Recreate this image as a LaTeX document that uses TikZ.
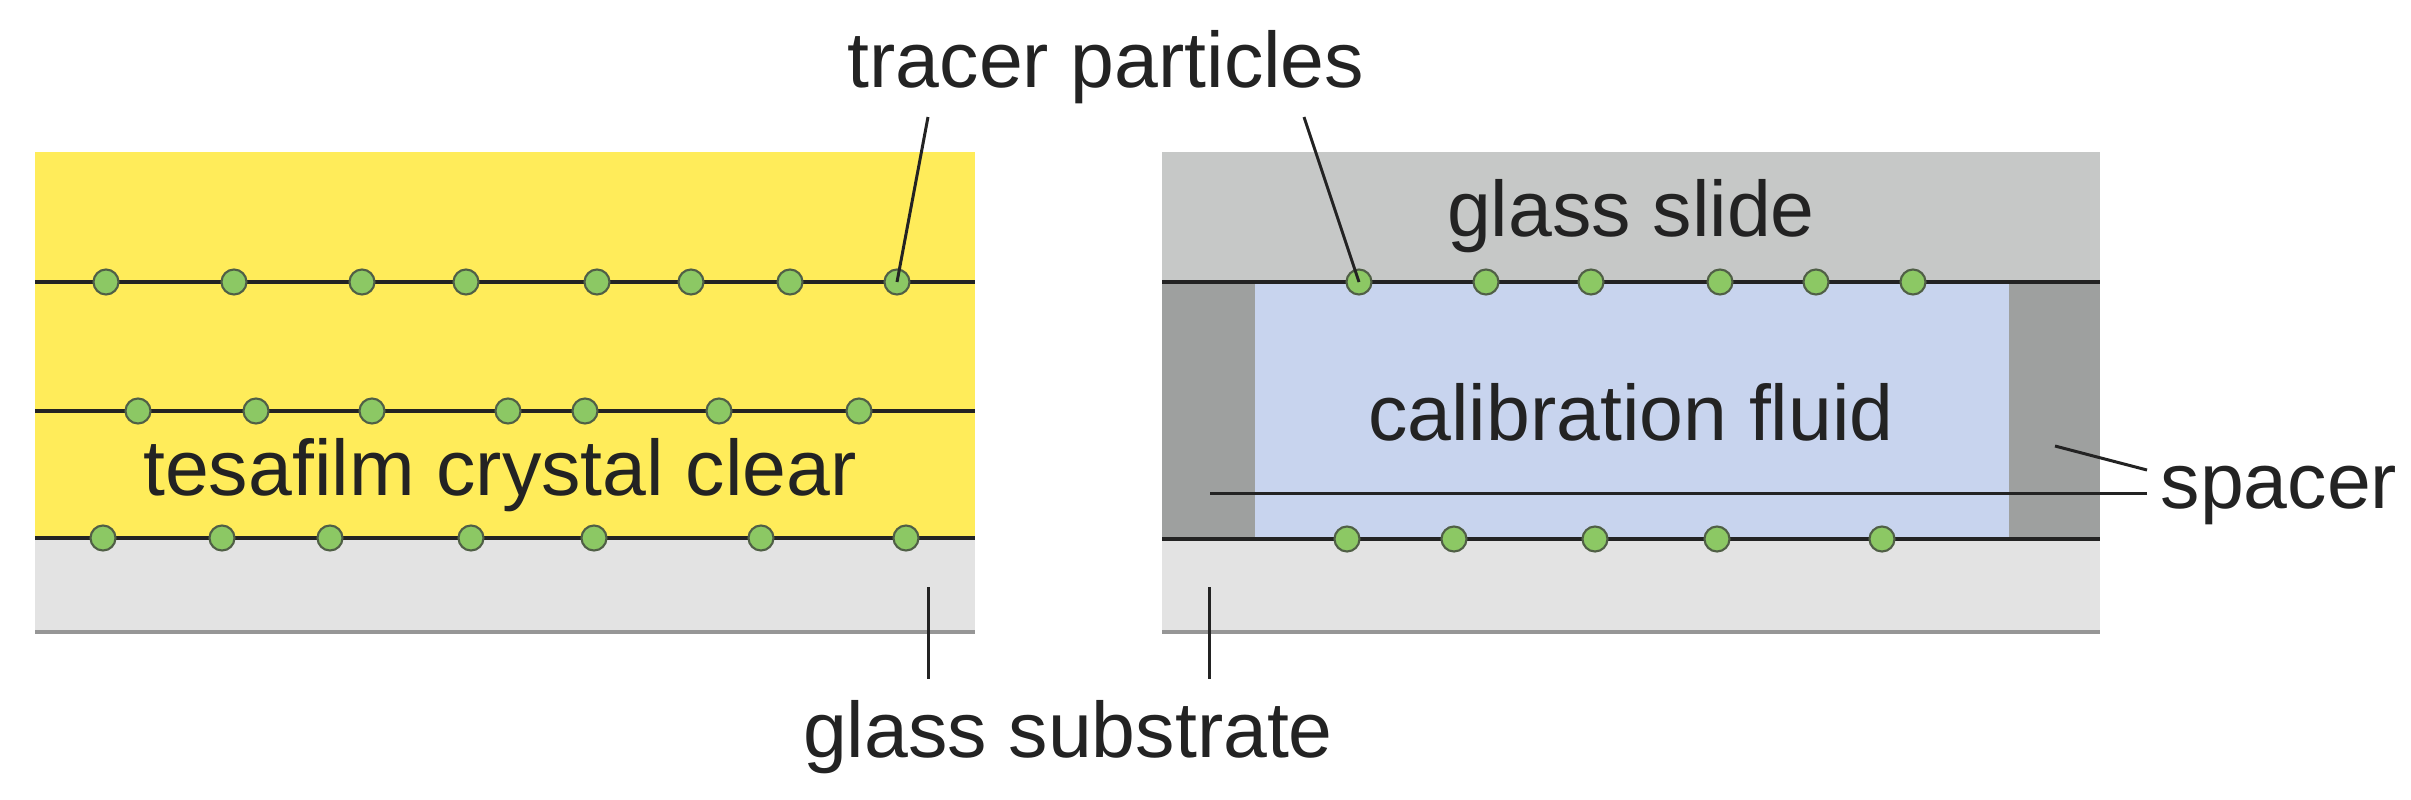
\documentclass[tikz,border=0pt]{standalone}
\usepackage{fontspec}
\setmainfont{Liberation Sans}
\definecolor{yel}{RGB}{255,236,90}
\definecolor{slide}{RGB}{198,200,199}
\definecolor{spacercol}{RGB}{158,160,159}
\definecolor{fluid}{RGB}{200,212,238}
\definecolor{subs}{RGB}{227,227,227}
\definecolor{subsedge}{RGB}{150,150,150}
\definecolor{pgreen}{RGB}{140,200,100}
\definecolor{pedge}{RGB}{80,95,70}
\definecolor{ink}{RGB}{35,35,35}
\begin{document}
\begin{tikzpicture}[x=0.01cm,y=-0.01cm,
  lbl/.style={font=\fontsize{22.4}{26}\selectfont, inner sep=0, anchor=base, text=ink},
  layerline/.style={line width=1.15pt, draw=ink},
  edgeline/.style={line width=1.1pt, draw=subsedge},
  leader/.style={line width=0.85pt, draw=ink},
  particle/.style={circle, minimum size=0.25cm, inner sep=0, fill=pgreen, draw=pedge, line width=0.6pt}]
\fill[white] (0,0) rectangle (2411,799);
\useasboundingbox (0,0) rectangle (2411,799);
% left panel
\fill[yel] (35,152) rectangle (975,538);
\fill[subs] (35,538) rectangle (975,632);
\draw[edgeline] (35,632) -- (975,632);
\draw[layerline] (35,282) -- (975,282);
\draw[layerline] (35,411) -- (975,411);
\draw[layerline] (35,538) -- (975,538);
% right panel
\fill[slide] (1162,152) rectangle (2100,282);
\fill[spacercol] (1162,282) rectangle (1255,539);
\fill[spacercol] (2009,282) rectangle (2100,539);
\fill[fluid] (1255,282) rectangle (2009,539);
\fill[subs] (1162,539) rectangle (2100,632);
\draw[edgeline] (1162,632) -- (2100,632);
\draw[layerline] (1162,282) -- (2100,282);
\draw[layerline] (1162,539) -- (2100,539);
% particles
\foreach \x [count=\i] in {106,234,362,466,597,691,790,897}
  \node[particle] (la\i) at (\x,282) {};
\foreach \x [count=\i] in {138,256,372,508,585,719,859}
  \node[particle] (lb\i) at (\x,411) {};
\foreach \x [count=\i] in {103,222,330,471,594,761,906}
  \node[particle] (lc\i) at (\x,538) {};
\foreach \x [count=\i] in {1359,1486,1591,1720,1816,1913}
  \node[particle] (ra\i) at (\x,282) {};
\foreach \x [count=\i] in {1347,1454,1595,1717,1882}
  \node[particle] (rb\i) at (\x,539) {};
% labels
\node[lbl] (tracer) at (1106,87) {tracer particles};
\node[lbl] (tesa) at (500,495) {tesafilm crystal clear};
\node[lbl] (gslide) at (1631,236) {glass slide};
\node[lbl] (calib) at (1631,440) {calibration fluid};
\node[lbl, anchor=base west] (spacer) at (2160,508) {spacer};
\node[lbl] (gsub) at (1068,757) {glass substrate};
% leaders
\coordinate (tpl) at (928,117);
\coordinate (tpr) at (1304,117);
\draw[leader] (tpl) -- (la8.center);
\draw[leader] (tpr) -- (ra1.center);
\coordinate (gsl1) at (928,587); \coordinate (gsl2) at (928,679);
\coordinate (gsr1) at (1209,587); \coordinate (gsr2) at (1209,679);
\draw[leader] (gsl1) -- (gsl2);
\draw[leader] (gsr1) -- (gsr2);
\coordinate (spa) at (2147,470); \coordinate (spb) at (2055,446);
\coordinate (spc) at (2147,493); \coordinate (spd) at (1210,493);
\draw[leader] (spa) -- (spb);
\draw[leader] (spc) -- (spd);
\end{tikzpicture}
\end{document}
